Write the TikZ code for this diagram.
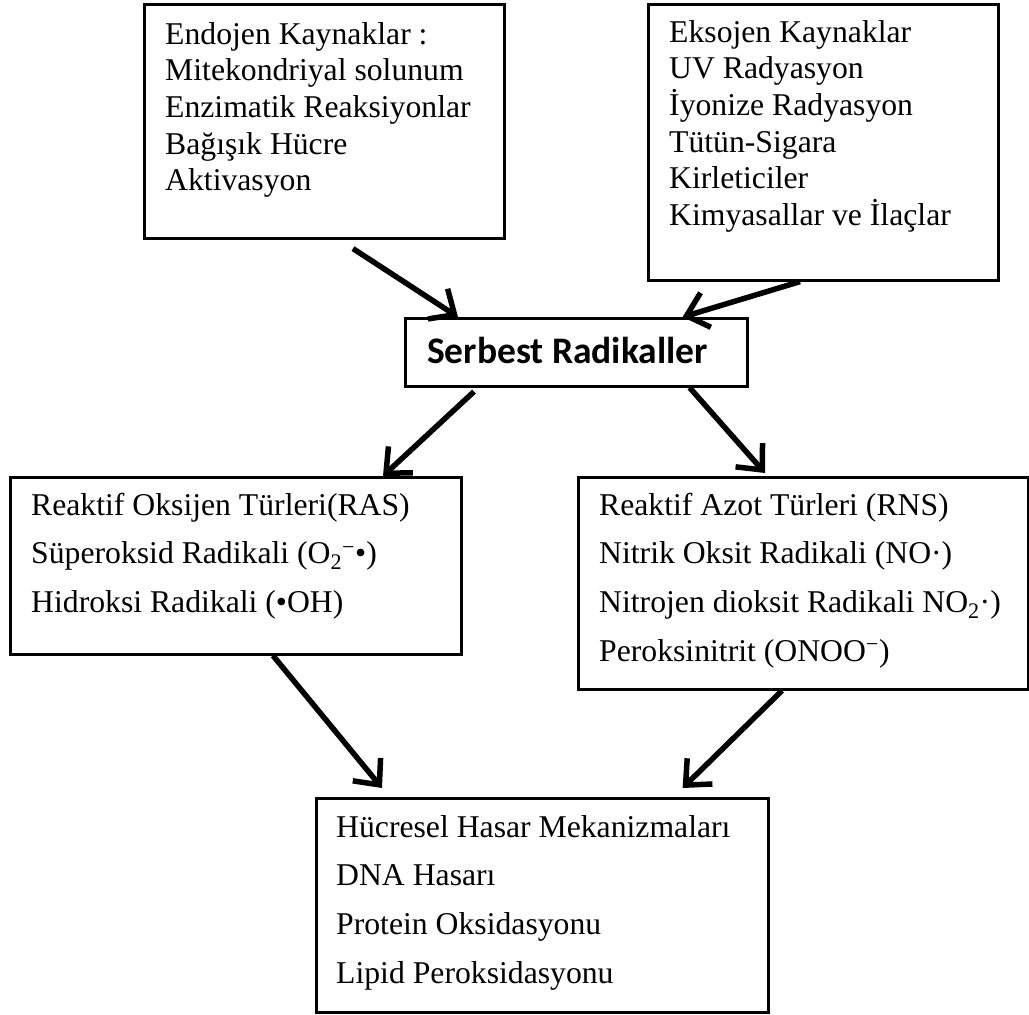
\documentclass[tikz,border=0pt]{standalone}
\usepackage{fontspec}
\setmainfont{Liberation Serif}
\newfontfamily\calibrifont{Carlito}
\usetikzlibrary{arrows.meta,calc}
\newcommand{\firstline}{\rule{0pt}{25pt}}
\begin{document}
\begin{tikzpicture}[x=1pt,y=-1pt,
  box/.style={draw=black, line width=2.6pt, inner sep=0pt, anchor=north west, rectangle},
  txtA/.style={anchor=north west, inner sep=0pt, align=left, font=\fontsize{31.7}{36.6}\selectfont},
  txtB/.style={anchor=north west, inner sep=0pt, align=left, font=\fontsize{31.7}{48.6}\selectfont},
  conn/.style={line width=5.5pt, -{Straight Barb[length=20pt,width=36pt]}}]
\useasboundingbox (0,0) rectangle (1029,1015);
\fill[white] (0,0) rectangle (1029,1015);
% boxes
\node[box, minimum width=360pt, minimum height=234pt] (b1) at (143,3) {};
\node[box, minimum width=350pt, minimum height=276pt] (b2) at (647,3) {};
\node[box, minimum width=342pt, minimum height=68pt] (b3) at (404,317) {};
\node[box, minimum width=451pt, minimum height=177pt] (b4) at (9,476) {};
\node[box, minimum width=450pt, minimum height=212pt] (b5) at (577,476) {};
\node[box, minimum width=452pt, minimum height=214pt] (b6) at (315,797) {};
% texts
\node[txtA] (t1) at (165,19) {\firstline Endojen Kaynaklar :\\Mitekondriyal solunum\\Enzimatik Reaksiyonlar\\Bağışık Hücre\\Aktivasyon};
\node[txtA] (t2) at (669,17) {\firstline Eksojen Kaynaklar\\UV Radyasyon\\İyonize Radyasyon\\Tütün-Sigara\\Kirleticiler\\Kimyasallar ve İlaçlar};
\node[anchor=base west, inner sep=0pt, font=\calibrifont\bfseries\fontsize{37.5}{40}\selectfont] (t3) at (427,363) {Serbest Radikaller};
\node[txtB] (t4) at (31,490) {\firstline Reaktif Oksijen Türleri(RAS)\\Süperoksid Radikali (O\textsubscript{2}\textsuperscript{−}•)\\Hidroksi Radikali (•OH)};
\node[txtB] (t5) at (599,490) {\firstline Reaktif Azot Türleri (RNS)\\Nitrik Oksit Radikali (NO·)\\Nitrojen dioksit Radikali NO\textsubscript{2}·)\\Peroksinitrit (ONOO\textsuperscript{−})};
\node[txtB] (t6) at (336,812) {\firstline Hücresel Hasar Mekanizmaları\\DNA Hasarı\\Protein Oksidasyonu\\Lipid Peroksidasyonu};
% connector end points
\coordinate (a1s) at ($(b1.south west)+(210,9)$);
\coordinate (a1e) at ($(b3.north west)+(54,0)$);
\coordinate (a2s) at ($(b2.south west)+(153,0)$);
\coordinate (a2e) at ($(b3.north east)+(-66,0)$);
\coordinate (a3s) at ($(b3.south west)+(70,4)$);
\coordinate (a3e) at ($(b4.north west)+(374,0)$);
\coordinate (a4s) at ($(b3.south east)+(-59,0)$);
\coordinate (a4e) at ($(b5.north west)+(188,-3)$);
\coordinate (a5s) at ($(b4.south west)+(264,0)$);
\coordinate (a5e) at ($(b6.north west)+(67,-9)$);
\coordinate (a6s) at ($(b5.south west)+(205,0)$);
\coordinate (a6e) at ($(b6.north east)+(-87,-9)$);
% connectors
\draw[conn] (a1s) -- (a1e);
\draw[conn] (a2s) -- (a2e);
\draw[conn] (a3s) -- (a3e);
\draw[conn] (a4s) -- (a4e);
\draw[conn] (a5s) -- (a5e);
\draw[conn] (a6s) -- (a6e);
\end{tikzpicture}
\end{document}
